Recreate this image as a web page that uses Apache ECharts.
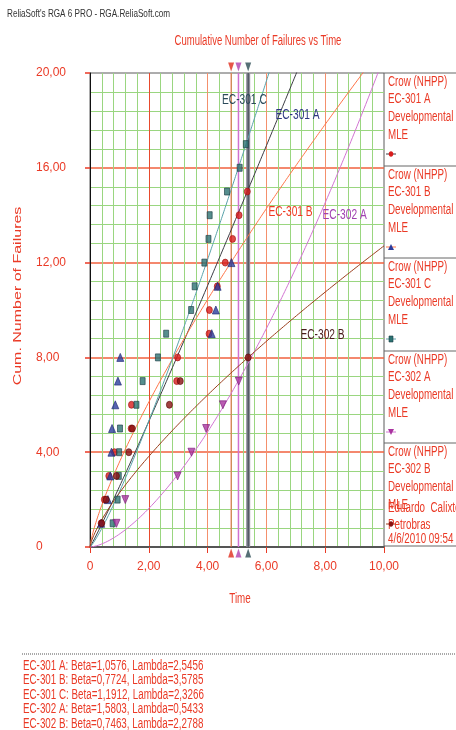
<!DOCTYPE html>
<html>
<head>
<meta charset="utf-8">
<script src="https://cdn.jsdelivr.net/npm/echarts@6/dist/echarts.min.js"></script>
<style>
  html, body { margin: 0; padding: 0; background: #fff; }
  #chart { width: 456px; height: 730px; }
</style>
</head>
<body>
<div id="chart"></div>
<script>
// Crow-AMSAA (NHPP) growth analysis: cumulative failures vs time for five systems.
const FONT = "'Liberation Sans', Arial, sans-serif";
const NARROW = 0.7; // horizontal squeeze giving a condensed look

const systems = ['EC-301 A', 'EC-301 B', 'EC-301 C', 'EC-302 A', 'EC-302 B'];
const betas   = [1.0576, 0.7724, 1.1912, 1.5803, 0.7463];
const lambdas = [2.5456, 3.5785, 2.3266, 0.5433, 2.2788];

// Failure times (cumulative count = position in list)
const timesEC301A = [0.38, 0.49, 0.64, 0.83, 1.40, 1.41, 2.95, 2.98, 4.05, 4.06, 4.33, 4.60, 4.85, 5.07, 5.35];
const timesEC301B = [0.38, 0.61, 0.69, 0.73, 0.75, 0.86, 0.95, 1.03, 4.14, 4.28, 4.34, 4.81];
const timesEC301C = [0.77, 0.94, 0.98, 0.99, 1.02, 1.58, 1.79, 2.31, 2.59, 3.44, 3.56, 3.89, 4.03, 4.07, 4.66, 5.09, 5.30];
const timesEC302A = [0.90, 1.20, 2.98, 3.45, 3.95, 4.52, 5.06];
const timesEC302B = [0.40, 0.55, 0.90, 1.32, 1.44, 2.70, 3.07, 5.38];

// End of observation times
const endTimes = [4.80, 5.05, 5.38];

const xTickLabels = ['0', '2,00', '4,00', '6,00', '8,00', '10,00'];
const yTickLabels = ['0', '4,00', '8,00', '12,00', '16,00', '20,00'];

const failureTimes = [timesEC301A, timesEC301B, timesEC301C, timesEC302A, timesEC302B];

const pointColors  = ['#d81c1c', '#2b3c9c', '#2c7272', '#a9339f', '#8a1212'];
const pointBorders = ['#a01010', '#1a2670', '#1c3c44', '#7a1a78', '#5a0808'];
const pointSymbols = ['circle', 'triangle', 'rect', 'triangle', 'circle'];
const pointRotate  = [0, 0, 0, 180, 0];
const pointSizes   = [[6, 7], [7, 8], [5, 7], [7, 8], [6, 7]];
const lineColors   = ['#3c3c44', '#ff7448', '#5aa2aa', '#d274d2', '#9a3e1c'];
const nameColors   = ['#2c3580', '#f03a22', '#2b4a5a', '#a040b0', '#4a1c1c'];
const endColors    = ['#e02c1c', '#b040b0', '#2c4c54'];

const RED = '#ea3a26';

function fmt(v, d) { return v.toFixed(d).replace('.', ','); }

const el = document.getElementById('chart');
const chart = echarts.init(el, null, { renderer: 'canvas' });

const series = [];

// fitted model curves N(t) = lambda * t^beta
systems.forEach((name, i) => {
  const pts = [];
  for (let k = 0; k <= 400; k++) {
    const t = k * 0.025;
    pts.push([t, lambdas[i] * Math.pow(t, betas[i])]);
  }
  series.push({
    name: name + ' model', type: 'line', data: pts, showSymbol: false, symbol: 'none',
    lineStyle: { color: lineColors[i], width: 1 }, clip: true, silent: true, z: 3
  });
});

// end-of-test vertical lines
endTimes.forEach((t, i) => {
  if (i === 2) {
    series.push({
      type: 'line', data: [[t, 0], [t, 20]], symbol: 'none', silent: true, z: 2,
      lineStyle: { color: '#8c8c98', width: 4 }
    });
  }
  series.push({
    type: 'line', data: [[t, 0], [t, 20]], symbol: 'none', silent: true, z: 2,
    lineStyle: { color: i === 0 ? '#f06040' : (i === 1 ? '#d070d0' : '#3c4650'), width: i === 1 ? 1.5 : 1 }
  });
  series.push({
    type: 'scatter', clip: false, z: 6, silent: true,
    data: [[t, 20]], symbol: 'triangle', symbolRotate: 180, symbolSize: [6, 9], symbolOffset: [0, -6],
    itemStyle: { color: endColors[i] }
  });
  series.push({
    type: 'scatter', clip: false, z: 6, silent: true,
    data: [[t, 0]], symbol: 'triangle', symbolSize: [6, 9], symbolOffset: [0, 6],
    itemStyle: { color: endColors[i] }
  });
});

// observed cumulative failures
systems.forEach((name, i) => {
  series.push({
    name: name, type: 'scatter', z: 5,
    data: failureTimes[i].map((t, k) => [t, k + 1]),
    symbol: pointSymbols[i], symbolRotate: pointRotate[i], symbolSize: pointSizes[i],
    itemStyle: { color: pointColors[i], borderColor: pointBorders[i], borderWidth: 0.8 }
  });
});

const option = {
  animation: false,
  backgroundColor: '#fff',
  textStyle: { fontFamily: FONT },
  grid: { left: 90, right: 72, top: 73, bottom: 183, show: true, borderColor: '#5a5a5a', borderWidth: 1, backgroundColor: 'transparent' },
  xAxis: {
    type: 'value', min: 0, max: 10, interval: 2,
    axisLine: { show: true, onZero: false, lineStyle: { color: '#555', width: 2 } },
    axisTick: { show: true, length: 6, lineStyle: { color: RED, width: 1 } },
    axisLabel: {
      margin: 14, color: RED, fontSize: 12, fontFamily: FONT,
      formatter: v => xTickLabels[Math.round(v / 2)]
    },
    splitLine: { show: true, lineStyle: { color: ['transparent', '#e84a2c', '#f4906c', '#f4906c', '#f4906c', 'transparent'], width: 1 } },
    minorTick: { show: false, splitNumber: 5 },
    minorSplitLine: { show: true, lineStyle: { color: '#9ad680', width: 1 } }
  },
  yAxis: {
    type: 'value', min: 0, max: 20, interval: 4,
    axisLine: { show: true, onZero: false, lineStyle: { color: '#111', width: 1 } },
    axisTick: { show: true, length: 5, lineStyle: { color: RED, width: 1.5 } },
    axisLabel: {
      margin: 54, align: 'left', color: RED, fontSize: 12, fontFamily: FONT,
      formatter: v => yTickLabels[Math.round(v / 4)]
    },
    splitLine: { show: true, lineStyle: { color: ['transparent', '#f0603e', '#f0603e', '#f0603e', '#f0603e', 'transparent'], width: 1.5 } },
    minorTick: { show: false, splitNumber: 5 },
    minorSplitLine: { show: true, lineStyle: { color: '#9ad680', width: 1 } }
  },
  series: series
};

chart.setOption(option);

// ---- annotations, legend panel and parameter list ----
const graphics = [];
const txt = (x, y, text, opts, sx) => ({
  type: 'text', x: x, y: y, scaleX: sx || NARROW, silent: true, z: 20,
  style: Object.assign({ text: text, fill: RED, font: '14px ' + FONT, textVerticalAlign: 'middle' }, opts || {})
});

graphics.push(txt(7, 14, "ReliaSoft's RGA 6 PRO - RGA.ReliaSoft.com", { fill: '#333', font: '11px ' + FONT }, 0.74));
graphics.push(txt(258, 41, 'Cumulative Number of Failures vs Time', { textAlign: 'center', font: '14px ' + FONT }, 0.68));
graphics.push({
  type: 'text', x: 18, y: 296, rotation: Math.PI / 2, scaleX: 1, scaleY: 0.68, silent: true, z: 20,
  style: { text: 'Cum. Number of Failures', fill: RED, font: '16px ' + FONT, textAlign: 'center', textVerticalAlign: 'middle' }
});
graphics.push(txt(240, 599, 'Time', { textAlign: 'center' }));

// curve name labels anchored in data space
const nameAnchors = [[7.06, 18.23], [6.82, 14.13], [5.25, 18.86], [8.66, 14.0], [7.91, 8.95]];
systems.forEach((name, i) => {
  const p = chart.convertToPixel({ gridIndex: 0 }, nameAnchors[i]);
  graphics.push(txt(p[0], p[1], name, { textAlign: 'center', fill: nameColors[i], font: '15px ' + FONT }, 0.68));
});

// legend panel at right
const panelTops = [73, 166, 258, 351, 443];
const sep = y => ({ type: 'line', silent: true, z: 19, shape: { x1: 384, y1: y, x2: 456, y2: y }, style: { stroke: '#666', lineWidth: 1 } });
panelTops.forEach(y => graphics.push(sep(y)));
graphics.push(sep(546));
systems.forEach((name, i) => {
  const y0 = panelTops[i];
  graphics.push(txt(388, y0 + 9, 'Crow (NHPP)'));
  graphics.push(txt(388, y0 + 26, name));
  graphics.push(txt(388, y0 + 44, 'Developmental'));
  graphics.push(txt(388, y0 + 62, 'MLE'));
  const my = y0 + 81;
  graphics.push({ type: 'line', silent: true, z: 20, shape: { x1: 386, y1: my, x2: 396, y2: my }, style: { stroke: lineColors[i], lineWidth: 1 } });
  const mc = pointColors[i];
  if (pointSymbols[i] === 'circle') {
    graphics.push({ type: 'ellipse', silent: true, z: 21, shape: { cx: 391, cy: my, rx: 2.3, ry: 2.8 }, style: { fill: mc } });
  } else if (pointSymbols[i] === 'rect') {
    graphics.push({ type: 'rect', silent: true, z: 21, shape: { x: 389, y: my - 3, width: 4, height: 6 }, style: { fill: mc, stroke: pointBorders[i], lineWidth: 0.6 } });
  } else if (pointRotate[i] === 180) {
    graphics.push({ type: 'polygon', silent: true, z: 21, shape: { points: [[388, my - 3], [394, my - 3], [391, my + 3]] }, style: { fill: mc } });
  } else {
    graphics.push({ type: 'polygon', silent: true, z: 21, shape: { points: [[388, my + 3], [394, my + 3], [391, my - 3]] }, style: { fill: mc } });
  }
});
graphics.push(txt(388, 508, 'Eduardo  Calixto'));
graphics.push(txt(388, 525, 'Petrobras'));
graphics.push(txt(388, 539, '4/6/2010 09:54'));

// parameter list
graphics.push({ type: 'line', silent: true, z: 19, shape: { x1: 22, y1: 654, x2: 456, y2: 654 }, style: { stroke: '#555', lineWidth: 1, lineDash: [1, 1] } });
systems.forEach((name, i) => {
  graphics.push(txt(23, 666 + i * 14.5, name + ': Beta=' + fmt(betas[i], 4) + ', Lambda=' + fmt(lambdas[i], 4)));
});

chart.setOption({ graphic: graphics });
</script>
</body>
</html>
